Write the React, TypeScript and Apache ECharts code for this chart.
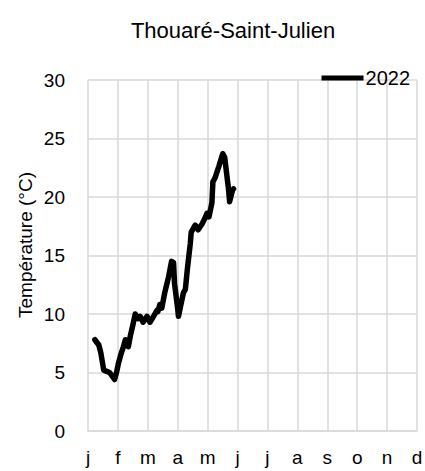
import React, { useEffect, useRef } from "react";
import * as echarts from "echarts";

const TITLE = "Thouaré-Saint-Julien";
const Y_NAME = "Température (°C)";
const SERIES_NAME = "2022";
const MONTH_LABELS = ["j", "f", "m", "a", "m", "j", "j", "a", "s", "o", "n", "d"];
const Y_TICKS = [0, 5, 10, 15, 20, 25, 30];

// day of year
const DAYS = [
  7, 11, 13, 16, 19, 22, 27, 29, 31, 34, 36, 38, 41, 43, 46, 48, 51, 53, 56, 60,
  63, 66, 70, 71, 73, 75, 78, 82, 85, 87, 88, 91, 92, 94, 97, 99, 101, 104, 105,
  107, 109, 112, 116, 119, 121, 123, 126, 127, 129, 133, 137, 139, 141, 143, 144,
  147, 148,
];
// temperature (°C)
const TEMPS = [
  7.8, 7.35, 6.7, 5.2, 5.1, 5.0, 4.4, 5.0, 5.8, 6.7, 7.2, 7.8, 7.2, 8.1, 9.2, 10.0,
  9.6, 9.8, 9.3, 9.8, 9.3, 9.7, 10.3, 10.2, 10.8, 10.5, 11.8, 13.2, 14.5, 14.4,
  12.6, 10.6, 9.8, 10.6, 11.8, 12.1, 13.8, 16.0, 17.0, 17.3, 17.6, 17.2, 17.7,
  18.2, 18.6, 18.3, 19.5, 21.3, 21.6, 22.6, 23.7, 23.4, 22.0, 20.6, 19.6, 20.6,
  20.7,
];

const FONT = "'Liberation Sans', Arial, sans-serif";
const GRID_COLOR = "#d9d9d9";

export default function App() {
  const ref = useRef<HTMLDivElement>(null);
  useEffect(() => {
    if (!ref.current) return;
    document.body.style.margin = "0";
    const chart = echarts.init(ref.current, null, { renderer: "svg" });
    const daysPerMonth = 365 / 12;
    const data = DAYS.map((d, i) => [d / daysPerMonth, TEMPS[i]]);
    chart.setOption({
      animation: false,
      backgroundColor: "#ffffff",
      textStyle: { fontFamily: FONT },
      title: {
        text: TITLE,
        left: 228,
        textAlign: "center",
        top: 14,
        textStyle: { fontFamily: FONT, fontSize: 22, fontWeight: "normal", color: "#000" },
      },
      legend: {
        data: [SERIES_NAME],
        right: 10,
        top: 63,
        icon: "rect",
        itemWidth: 42,
        itemHeight: 5,
        itemStyle: { color: "#000" },
        textStyle: { fontFamily: FONT, fontSize: 20, color: "#000", padding: [0, 0, 0, -3] },
      },
      graphic: [
        {
          type: "text",
          x: 25,
          y: 245,
          rotation: Math.PI / 2,
          style: {
            text: Y_NAME,
            fontFamily: FONT,
            fontSize: 19,
            fill: "#000",
            align: "center",
            verticalAlign: "middle",
          },
        },
      ],
      grid: { left: 88, width: 329, top: 80, bottom: 40, outerBoundsMode: "none", containLabel: false },
      xAxis: {
        type: "value",
        min: 0,
        max: 11,
        interval: 1,
        axisLine: { show: true, lineStyle: { color: GRID_COLOR, width: 1.5 } },
        axisTick: { show: false },
        splitLine: { show: true, lineStyle: { color: GRID_COLOR, width: 1.5 } },
        axisLabel: {
          margin: 17,
          fontFamily: FONT,
          fontSize: 19,
          color: "#000",
          showMaxLabel: true,
          formatter: (v: number) => MONTH_LABELS[Math.round(v)] ?? "",
        },
      },
      yAxis: {
        type: "value",
        min: Y_TICKS[0],
        max: Y_TICKS[Y_TICKS.length - 1],
        interval: 5,
        axisLine: { show: false },
        axisTick: { show: false },
        splitLine: { show: true, lineStyle: { color: GRID_COLOR, width: 1.5 } },
        axisLabel: { margin: 23, fontFamily: FONT, fontSize: 19, color: "#000" },
      },
      series: [
        {
          name: SERIES_NAME,
          type: "line",
          data,
          symbol: "none",
          lineStyle: { color: "#000", width: 5.5, join: "round", cap: "round" },
          itemStyle: { color: "#000" },
        },
      ],
    });
    return () => chart.dispose();
  }, []);
  return (
    <div
      ref={ref}
      style={{ position: "fixed", left: 0, top: 0, width: 425, height: 471 }}
    />
  );
}
